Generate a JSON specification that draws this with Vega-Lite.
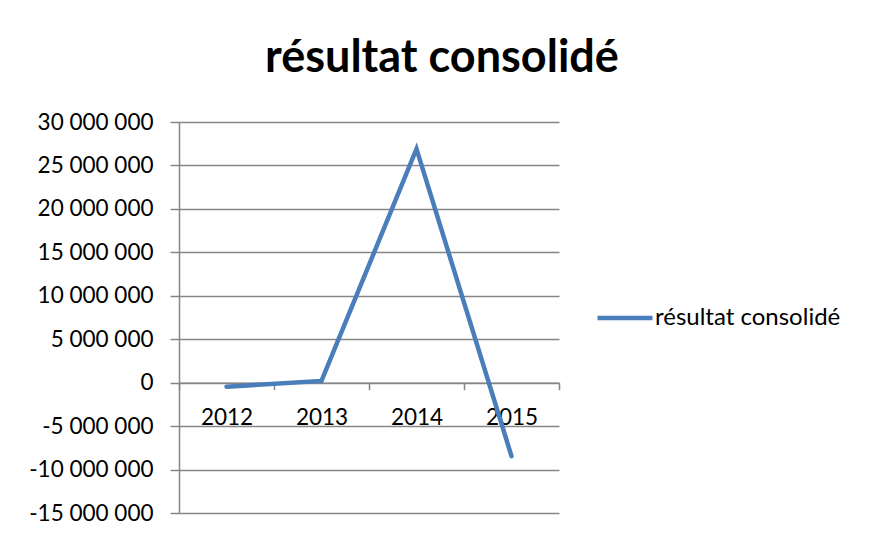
{
  "$schema": "https://vega.github.io/schema/vega-lite/v6.json",
  "autosize": "none",
  "width": 380,
  "height": 391,
  "padding": {"left": 179, "top": 122, "right": 310, "bottom": 22},
  "background": "white",
  "config": {
    "locale": {
      "number": {"decimal": ",", "thousands": " ", "grouping": [3], "currency": ["", " €"], "minus": "-"}
    },
    "font": "Lato",
    "view": {"stroke": null}
  },
  "title": {
    "text": "résultat consolidé",
    "font": "Lato",
    "fontSize": 45,
    "fontWeight": "bold",
    "color": "#000000",
    "anchor": "middle",
    "frame": "group",
    "dx": 73,
    "baseline": "alphabetic",
    "offset": -6
  },
  "data": {
    "values": [
      {"year": "2012", "value": -460000, "series": "résultat consolidé"},
      {"year": "2013", "value": 200000, "series": "résultat consolidé"},
      {"year": "2014", "value": 26900000, "series": "résultat consolidé"},
      {"year": "2015", "value": -8450000, "series": "résultat consolidé"}
    ]
  },
  "mark": {"type": "line", "strokeWidth": 4.5, "strokeCap": "round", "strokeJoin": "miter"},
  "encoding": {
    "x": {
      "field": "year",
      "type": "ordinal",
      "bandPosition": 0.5,
      "scale": {"type": "band", "paddingInner": 0, "paddingOuter": 0},
      "axis": {
        "title": null,
        "orient": "bottom",
        "offset": -130.3,
        "tickBand": "extent",
        "labelAngle": 0,
        "labelFont": "Lato",
        "labelFontSize": 22.5,
        "labelColor": "#000000",
        "labelPadding": 17,
        "domainColor": "#868686",
        "domainWidth": 1.5,
        "tickColor": "#868686",
        "tickWidth": 1.5,
        "tickSize": 7,
        "grid": false
      }
    },
    "y": {
      "field": "value",
      "type": "quantitative",
      "scale": {"domain": [-15000000, 30000000], "nice": false, "zero": false},
      "axis": {
        "title": null,
        "values": [-15000000, -10000000, -5000000, 0, 5000000, 10000000, 15000000, 20000000, 25000000, 30000000],
        "format": ",.0f",
        "labelFont": "Lato",
        "labelFontSize": 22.5,
        "labelColor": "#000000",
        "labelPadding": 17,
        "domainColor": "#868686",
        "domainWidth": 1.5,
        "tickColor": "#868686",
        "tickWidth": 1.5,
        "tickSize": 9,
        "grid": true,
        "gridColor": "#868686",
        "gridWidth": 1.5
      }
    },
    "color": {
      "field": "series",
      "type": "nominal",
      "scale": {"range": ["#4A7EBB"]},
      "legend": {
        "title": null,
        "orient": "none",
        "legendX": 416,
        "legendY": 166,
        "padding": 0,
        "symbolType": "stroke",
        "symbolSize": 3025,
        "symbolStrokeWidth": 4.5,
        "labelFont": "Lato",
        "labelFontSize": 24,
        "labelColor": "#000000",
        "labelOffset": 0,
        "labelLimit": 300
      }
    }
  }
}
